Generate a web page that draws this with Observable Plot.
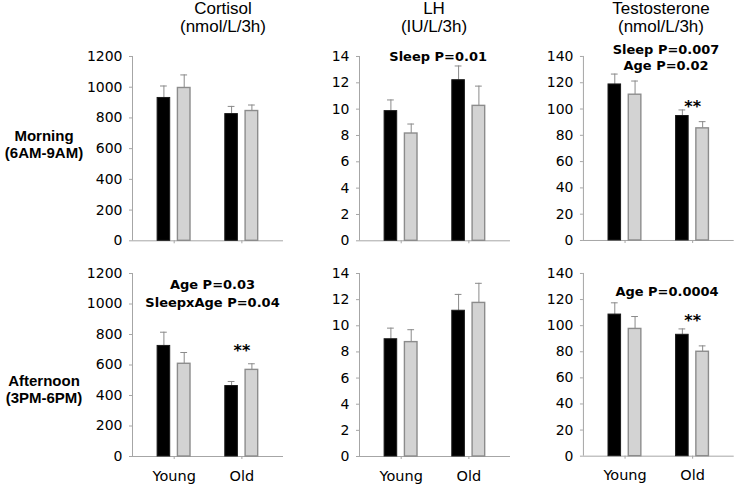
<!DOCTYPE html>
<html>
<head>
<meta charset="utf-8">
<script src="https://cdn.jsdelivr.net/npm/d3@7"></script>
<script src="https://cdn.jsdelivr.net/npm/@observablehq/plot@0.6"></script>
<style>
  html, body { margin: 0; padding: 0; background: white; }
  #chart { position: relative; width: 736px; height: 486px; overflow: hidden; background: white; }
  .title { position: absolute; width: 200px; text-align: center; font-family: "Liberation Sans", Arial, sans-serif; font-size: 17px; line-height: 18px; color: #000; }
  .rowlab { position: absolute; width: 90px; text-align: center; font-family: "Liberation Sans", Arial, sans-serif; font-weight: bold; font-size: 15px; line-height: 17px; color: #000; }
  .panel { position: absolute; }
</style>
</head>
<body>
<div id="chart"></div>
<script>
// ---- data (order: Young-cond1, Young-cond2, Old-cond1, Old-cond2) ----
const groups = ["Young", "Old"];
const conditions = ["Condition 1", "Condition 2"];
const hormones = ["Cortisol", "LH", "Testosterone"];
const units = ["(nmol/L/3h)", "(IU/L/3h)", "(nmol/L/3h)"];
const periods = ["Morning", "Afternoon"];
const periodHours = ["(6AM-9AM)", "(3PM-6PM)"];

const cortisolMorningMean = [930, 995, 825, 845];
const cortisolMorningSem  = [78, 85, 50, 39];
const lhMorningMean = [9.85, 8.15, 12.2, 10.25];
const lhMorningSem  = [0.85, 0.72, 1.08, 1.5];
const testoMorningMean = [118.7, 110.9, 94.7, 85.3];
const testoMorningSem  = [7.9, 10.4, 4.6, 5.1];

const cortisolAfternoonMean = [725, 608, 462, 568];
const cortisolAfternoonSem  = [90, 74, 30, 40];
const lhAfternoonMean = [8.97, 8.75, 11.15, 11.75];
const lhAfternoonSem  = [0.85, 0.95, 1.25, 1.5];
const testoAfternoonMean = [108.5, 97.5, 93, 80];
const testoAfternoonSem  = [9, 9.5, 4.5, 4.5];

const yMax = [1200, 14, 140];
const yStep = [200, 2, 20];

// annotation texts per panel [row][col]
const statTexts = [
  [[], ["Sleep P=0.01"], ["Sleep P=0.007", "Age P=0.02"]],
  [["Age P=0.03", "SleepxAge P=0.04"], [], ["Age P=0.0004"]]
];
const starText = "**";
// star marks: panel, group, value level
const stars = [
  {row: 0, col: 2, group: "Old", y: 105},
  {row: 1, col: 0, group: "Old", y: 716},
  {row: 1, col: 2, group: "Old", y: 106.5}
];

const means = [
  [cortisolMorningMean, lhMorningMean, testoMorningMean],
  [cortisolAfternoonMean, lhAfternoonMean, testoAfternoonMean]
];
const sems = [
  [cortisolMorningSem, lhMorningSem, testoMorningSem],
  [cortisolAfternoonSem, lhAfternoonSem, testoAfternoonSem]
];

// ---- layout ----
const chart = document.getElementById("chart");
const axisColor = "#a6a6a6";
const errColor = "#8a8a8a";
const barFill = ["#000000", "#d3d3d3"];
const barStroke = ["#1a1a1a", "#8c8c8c"];
const colAxisX = [131.7, 359.3, 583.3];
const rowTopY = [55.7, 272.7];
const rowPlotH = [184.3, 183];
const plotW = 151;
const mL = 45, mR = 2, mT = 30;
const mB = [12, 32];
const xDomain = [0.384, 2.615];
const off = [-0.152, 0.148];
const halfW = 0.093;
const capHalf = 0.05;
const titleCenters = [223, 434, 661];
// text annotation placement per panel (x in group-index units, y baseline of last line in data units, line height)
const statPos = [
  [null, {x: 1.546, y: 13.67, lh: 1.25}, {x: 1.606, y: 129.9, lh: 1.25}],
  [{x: 1.566, y: 982, lh: 1.4}, null, {x: 1.62, y: 123, lh: 1.25}]
];

// titles
hormones.forEach((h, i) => {
  const d = document.createElement("div");
  d.className = "title";
  d.style.left = (titleCenters[i] - 100) + "px";
  d.style.top = "0px";
  d.innerHTML = h + "<br>" + units[i];
  chart.appendChild(d);
});
// row labels
const rowLabTop = [126.5, 371.5];
periods.forEach((p, r) => {
  const d = document.createElement("div");
  d.className = "rowlab";
  d.style.left = "-1px";
  d.style.top = rowLabTop[r] + "px";
  d.innerHTML = p + "<br>" + periodHours[r];
  chart.appendChild(d);
});

for (let r = 0; r < 2; r++) {
  for (let c = 0; c < 3; c++) {
    const data = [];
    groups.forEach((g, gi) => conditions.forEach((cond, ci) => {
      data.push({group: g, gi: gi + 1, cond, ci,
        mean: means[r][c][gi * 2 + ci], sem: sems[r][c][gi * 2 + ci]});
    }));
    const ctr = d => d.gi + off[d.ci];
    const marks = [
      Plot.ruleY([0], {stroke: axisColor, strokeWidth: 1}),
      Plot.ruleX([xDomain[0]], {y1: 0, y2: yMax[c], stroke: axisColor, strokeWidth: 1}),
      Plot.axisY({ticks: d3.range(0, yMax[c] + yStep[c] / 2, yStep[c]), tickFormat: d => String(d),
        tickSize: 3, tickPadding: 7, stroke: axisColor, fill: "black", fontSize: 14, label: null}),
      Plot.axisX({ticks: [1, 2], tickFormat: r === 1 ? (i => groups[i - 1]) : (() => ""),
        tickSize: 3, tickPadding: 11, stroke: axisColor, fill: "black", fontSize: 14.5, label: null}),
      Plot.ruleX(data, {x: ctr, y1: "mean", y2: d => d.mean + d.sem, stroke: errColor, strokeWidth: 1}),
      Plot.ruleY(data, {y: d => d.mean + d.sem, x1: d => ctr(d) - capHalf, x2: d => ctr(d) + capHalf,
        stroke: errColor, strokeWidth: 1}),
      ...[0, 1].map(ci => Plot.rectY(data.filter(d => d.ci === ci), {
        x1: d => ctr(d) - halfW, x2: d => ctr(d) + halfW, y1: 0, y2: "mean",
        fill: barFill[ci], stroke: barStroke[ci], strokeWidth: ci === 1 ? 1.4 : 1
      }))
    ];
    const st = statTexts[r][c];
    if (st.length) {
      const p = statPos[r][c];
      marks.push(Plot.text([st.join("\n")], {x: p.x, y: p.y, text: d => d, lineAnchor: "bottom",
        lineHeight: p.lh, fontWeight: "bold", fontSize: 13, fontFamily: "DejaVu Sans", fill: "black"}));
    }
    stars.filter(s => s.row === r && s.col === c).forEach(s => {
      marks.push(Plot.text([s], {x: d => groups.indexOf(d.group) + 1, y: "y", text: () => starText,
        lineAnchor: "middle", dy: 4, fontWeight: "bold", fontSize: 16, fontFamily: "DejaVu Sans", fill: "black"}));
    });

    const svg = Plot.plot({
      width: mL + plotW + mR,
      height: mT + rowPlotH[r] + mB[r],
      marginLeft: mL, marginRight: mR, marginTop: mT, marginBottom: mB[r],
      x: {type: "linear", domain: xDomain, axis: null},
      y: {domain: [0, yMax[c]], axis: null},
      style: {fontFamily: "DejaVu Sans", fontSize: "13px", background: "transparent", overflow: "visible", color: "black"},
      marks
    });
    const wrap = document.createElement("div");
    wrap.className = "panel";
    wrap.style.left = (colAxisX[c] - mL) + "px";
    wrap.style.top = (rowTopY[r] - mT) + "px";
    wrap.appendChild(svg);
    chart.appendChild(wrap);
  }
}
</script>
</body>
</html>
